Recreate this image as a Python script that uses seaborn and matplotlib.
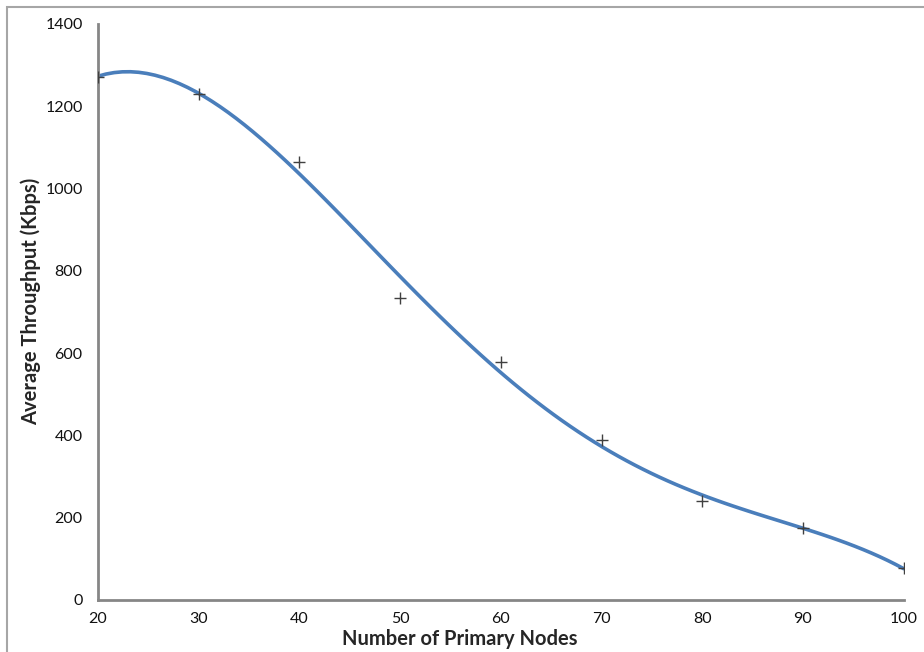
import matplotlib
matplotlib.use("Agg")
import matplotlib.pyplot as plt
import seaborn as sns
import pandas as pd
from matplotlib.patches import Rectangle

nodes = [20, 30, 40, 50, 60, 70, 80, 90, 100]
throughput = [1271, 1230, 1065, 733, 578, 389, 240, 174, 78]
x_ticks = [20, 30, 40, 50, 60, 70, 80, 90, 100]
y_ticks = [0, 200, 400, 600, 800, 1000, 1200, 1400]

df = pd.DataFrame({"nodes": nodes, "throughput": throughput})

sns.set_style("white")
plt.rcParams["font.family"] = ["Lato", "DejaVu Sans"]

fig = plt.figure(figsize=(9.24, 6.52), dpi=100)
ax = fig.add_axes([0.106, 0.0798, 0.872, 0.8834])

axis_gray = "#868686"
# trendline (polynomial fit of the data, as in the original)
sns.regplot(data=df, x="nodes", y="throughput", order=4, ci=None, scatter=False,
            truncate=True, line_kws=dict(color="#4a7ebb", lw=2.6, solid_capstyle="round"),
            ax=ax)
sns.scatterplot(data=df, x="nodes", y="throughput", marker="+", s=80,
                color="#404040", linewidth=1.0, ax=ax, zorder=5)

ax.set_xlim(20, 100)
ax.set_ylim(0, 1400)
ax.set_xticks(x_ticks)
ax.set_yticks(y_ticks)
ax.tick_params(axis="both", direction="in", length=4, width=1.2, color=axis_gray,
               labelsize=11.5, labelcolor="#111111")
ax.tick_params(axis="x", pad=9)
ax.tick_params(axis="y", pad=11)
for side in ["top", "right"]:
    ax.spines[side].set_visible(False)
for side in ["left", "bottom"]:
    ax.spines[side].set_color(axis_gray)
    ax.spines[side].set_linewidth(2)

ax.set_xlabel("Number of Primary Nodes", fontsize=14.5, fontweight="bold")
ax.set_ylabel("Average Throughput (Kbps)", fontsize=14.5, fontweight="bold")
ax.xaxis.set_label_coords(0.449, -0.050)
ax.yaxis.set_label_coords(-0.071, 0.519)
for lab in ax.get_xticklabels() + ax.get_yticklabels():
    lab.set_clip_on(False)

# chart area border
fig.patches.append(Rectangle((7 / 924, -0.2), 2.0, 0.2 + (652 - 7) / 652,
                             transform=fig.transFigure, fill=False,
                             edgecolor="#a6a6a6", lw=1.5, zorder=-1))

fig.savefig("out.png", dpi=100)
